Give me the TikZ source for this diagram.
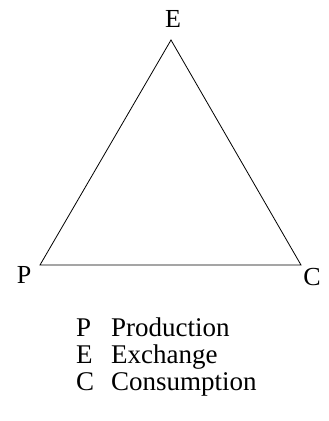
\documentclass[tikz,border=0pt]{standalone}
\usepackage{fontspec}
\setmainfont{Liberation Serif}
\begin{document}
\begin{tikzpicture}[x=1pt,y=-1pt,
  vlabel/.style={font=\fontsize{26}{30}\selectfont, inner sep=0pt},
  legend/.style={font=\fontsize{27}{31}\selectfont, inner sep=0pt, anchor=base west}]
\useasboundingbox (0,0) rectangle (329,421);
\coordinate (e) at (171,40);
\coordinate (p) at (40,265);
\coordinate (c) at (301,265);
\draw[line width=0.8pt] (e) -- (p) -- (c) -- cycle;
\node[vlabel] (le) at (173,19) {E};
\node[vlabel] (lp) at (24,275) {P};
\node[vlabel] (lc) at (312,277) {C};
\node[legend] (k1) at (76,336) {P};
\node[legend] (t1) at (111,336) {Production};
\node[legend] (k2) at (76,363) {E};
\node[legend] (t2) at (111,363) {Exchange};
\node[legend] (k3) at (76,390) {C};
\node[legend] (t3) at (111,390) {Consumption};
\end{tikzpicture}
\end{document}
